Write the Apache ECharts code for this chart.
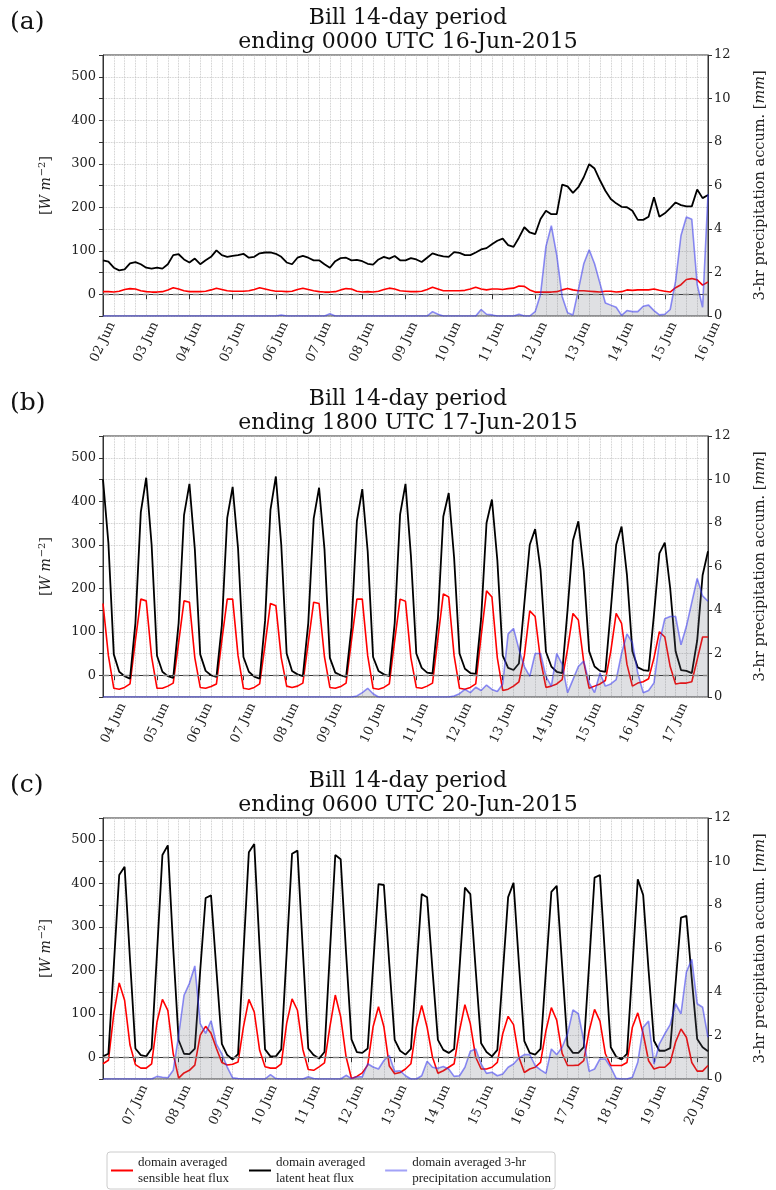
<!DOCTYPE html>
<html><head><meta charset="utf-8">
<script src="https://cdn.jsdelivr.net/npm/echarts@6/dist/echarts.min.js"></script>
<style>html,body{margin:0;padding:0;background:#fff}#c{width:776px;height:1190px}</style>
</head><body><div id="c"></div>
<script>
const FONT = 'DejaVu Serif';
const LEGFONT = 'Liberation Serif';
const panelTags = ['(a)', '(b)', '(c)'];
const panelTitles = [
  'Bill 14-day period\nending 0000 UTC 16-Jun-2015',
  'Bill 14-day period\nending 1800 UTC 17-Jun-2015',
  'Bill 14-day period\nending 0600 UTC 20-Jun-2015'
];
const startDay = [2, 3, 6];
const startHour = [0, 18, 6];
const nameSH = 'domain averaged\nsensible heat flux';
const nameLH = 'domain averaged\nlatent heat flux';
const namePR = 'domain averaged 3-hr\nprecipitation accumulation';

// ---------- Panel (a) ----------
const sensibleA = [
  6,6,5,7,11,13,12,8,
  6,5,5,6,10,15,12,8,
  6,6,6,7,10,14,11,8,
  7,7,7,8,11,15,12,9,
  7,7,6,7,11,14,11,8,
  6,5,5,6,10,13,12,7,
  5,6,5,7,11,14,12,8,
  7,6,6,7,11,16,12,8,
  8,8,8,9,12,16,12,10,
  12,12,11,13,14,19,18,10,
  5,5,5,5,6,10,13,10,
  8,8,7,6,5,7,7,5,
  6,10,9,10,10,10,12,9,
  7,5,15,22,34,36,33,21,
  28];
const latentA = [
  78,75,61,55,57,71,74,69,
  61,59,61,59,69,90,92,80,
  73,82,69,78,86,101,90,86,
  88,90,93,84,86,94,96,96,
  93,86,73,69,84,88,84,78,
  78,69,61,76,83,84,78,79,
  76,70,68,80,86,82,88,78,
  78,83,80,74,84,94,90,87,
  86,97,95,90,90,96,103,106,
  115,123,128,113,109,130,154,142,
  138,173,192,184,184,252,248,233,
  246,269,299,289,262,238,219,209,
  201,200,192,171,171,178,223,178,
  186,198,211,205,202,202,241,221,
  228];
const precipA = [
  0,0,0,0,0,0,0,0,
  0,0,0,0,0,0,0,0,
  0,0,0,0,0,0,0,0,
  0,0,0,0,0,0,0,0,
  0,0.05,0,0,0,0,0,0,
  0,0,0.1,0,0,0,0,0,
  0,0,0,0,0,0,0,0,
  0,0,0,0,0,0.2,0.08,0,
  0,0,0,0,0,0,0.3,0.08,
  0.05,0,0,0,0,0.08,0,0,
  0.2,1.0,3.2,4.15,2.8,0.9,0.15,0.05,
  1.2,2.4,3.05,2.4,1.5,0.6,0.5,0.4,
  0.03,0.25,0.2,0.2,0.45,0.5,0.25,0.05,
  0.08,0.3,1.6,3.7,4.55,4.45,1.45,0.4,
  5.6];

// ---------- Panel (b) ----------
const sensibleB = [
  165,45,-30,-32,-28,-20,80,175,
  171,42,-30,-30,-25,-18,75,171,
  168,40,-28,-30,-26,-20,80,175,
  175,45,-30,-32,-28,-20,70,165,
  160,40,-25,-28,-25,-18,75,168,
  165,42,-28,-30,-26,-18,80,175,
  175,45,-30,-32,-28,-20,80,175,
  170,40,-28,-30,-25,-18,85,187,
  180,45,-30,-32,-28,-20,90,194,
  180,40,-35,-32,-25,-15,45,148,
  135,35,-28,-25,-20,-10,60,142,
  127,30,-30,-25,-20,-12,55,142,
  119,25,-25,-18,-15,-8,40,100,
  88,20,-20,-18,-18,-15,36,88,
  88];
const latentB = [
  450,304,48,8,-2,-8,120,375,
  454,300,45,8,-2,-6,120,368,
  440,290,48,10,0,-4,115,362,
  433,292,42,8,-3,-8,125,380,
  457,300,50,10,2,-2,120,360,
  431,290,40,6,0,-4,110,355,
  428,285,42,10,2,-2,120,370,
  440,275,50,17,6,4,130,365,
  419,270,50,15,5,3,130,350,
  404,265,45,17,12,27,165,300,
  336,242,54,20,8,5,150,310,
  354,240,55,20,10,8,150,300,
  342,230,55,18,12,10,140,280,
  305,200,55,12,10,5,80,230,
  285];
const precipB = [
  0,0,0,0,0,0,0,0,
  0,0,0,0,0,0,0,0,
  0,0,0,0,0,0,0,0,
  0,0,0,0,0,0,0,0,
  0,0,0,0,0,0,0,0,
  0,0,0,0,0,0,0,0.05,
  0.2,0.4,0.15,0,0,0,0,0,
  0,0,0,0,0,0,0,0,
  0,0.05,0.15,0.35,0.2,0.45,0.3,0.55,
  0.35,0.25,0.6,2.9,3.15,2.2,1.4,0.95,
  2.0,2.0,0.95,0.5,2.0,1.5,0.2,0.8,
  1.4,1.65,0.65,0.2,1.1,0.5,0.6,0.8,
  2.0,2.9,2.5,1.1,0.2,0.3,0.65,2.5,
  3.6,3.7,3.7,2.4,3.25,4.35,5.45,4.65,
  4.4];

// ---------- Panel (c) ----------
const sensibleC = [
  -15,-7,100,171,131,28,-17,-25,
  -25,-15,81,133,108,8,-48,-36,
  -30,-18,51,71,55,20,-12,-18,
  -16,-11,70,133,104,16,-22,-25,
  -25,-15,78,134,108,18,-28,-30,
  -22,-13,70,143,93,1,-49,-44,
  -36,-18,70,116,70,-20,-38,-35,
  -27,-15,69,119,69,0,-37,-31,
  -23,-15,61,121,77,0,-27,-27,
  -23,-12,54,94,75,0,-35,-27,
  -23,-12,61,114,85,9,-19,-19,
  -18,-8,61,110,83,8,-19,-19,
  -19,-12,69,102,54,-8,-27,-23,
  -23,-12,35,65,46,-12,-32,-32,
  -19];
const latentC = [
  2,8,210,419,438,225,20,5,
  2,20,240,465,487,250,39,8,
  7,20,200,366,372,200,31,5,
  -5,7,240,471,490,250,18,2,
  2,18,240,468,475,245,20,5,
  -3,12,240,465,455,240,41,12,
  10,20,210,398,396,215,40,15,
  6,19,195,375,368,200,40,17,
  10,19,205,390,375,200,32,12,
  2,17,190,368,401,215,37,10,
  6,19,200,380,394,210,27,10,
  10,23,215,413,419,220,23,1,
  -5,8,205,409,373,200,38,15,
  15,21,170,321,325,180,42,23,
  14];
const precipC = [
  0,0,0,0,0,0,0,0,
  0,0,0.12,0.08,0.06,0.4,2.0,3.85,
  4.4,5.2,2.55,2.1,2.68,1.6,1.15,0.55,
  0.05,0.02,0,0,0,0,0,0.2,
  0.02,0,0,0,0,0,0.1,0.02,
  0,0,0,0,0,0.17,0.02,0.1,
  0.1,0.7,0.55,0.46,0.85,1.08,0.35,0.38,
  0.15,0,0,0.15,0.82,0.54,0.49,0.57,
  0.46,0.12,0.15,0.54,1.28,1.38,0.69,0.26,
  0.31,0.15,0.23,0.54,0.69,0.97,1.12,1.12,
  0.62,0.42,0.26,1.38,1.12,1.46,2.08,3.18,
  3.0,1.77,0.35,0.46,0.92,0.92,0.54,0.03,
  0,0,0.08,0.77,2.38,2.66,0.69,1.62,
  2.08,2.5,3.46,3.0,4.92,5.5,3.46,3.3,
  1.92];

const sensible = [sensibleA, sensibleB, sensibleC];
const latent = [latentA, latentB, latentC];
const precip = [precipA, precipB, precipC];

function makeCats(d0, h0, n) {
  const out = [];
  for (let i = 0; i < n; i++) {
    const t = h0 + 3 * i;
    const d = d0 + Math.floor(t / 24);
    const h = t % 24;
    out.push(String(d).padStart(2, '0') + ' Jun ' + String(h).padStart(2, '0'));
  }
  return out;
}

const gridTops = [55, 436, 818];
const gridH = 261;
const isDay = (i, v) => v.slice(-2) === '00';

const grids = [], xAxes = [], yAxes = [], series = [], titles = [];
for (let g = 0; g < 3; g++) {
  const cats = makeCats(startDay[g], startHour[g], latent[g].length);
  grids.push({left: 103, top: gridTops[g], width: 617, height: gridH,
    show: true, borderColor: '#333', borderWidth: 1, backgroundColor: 'transparent'});
  xAxes.push({
    type: 'category', gridIndex: g, data: cats, boundaryGap: false,
    axisLine: {lineStyle: {color: '#333', width: 1}},
    axisTick: {interval: isDay, length: 5, lineStyle: {color: '#333'}},
    axisLabel: {interval: isDay, formatter: v => v.slice(0, 6), rotate: 65,
      align: 'center', verticalAlign: 'middle', margin: 26,
      fontFamily: FONT, fontSize: 13, color: '#222'},
    splitLine: {show: true, interval: (i) => i % 2 === 0,
      lineStyle: {type: 'dotted', color: '#bdbdbd', width: 0.8}}
  });
  yAxes.push({
    type: 'value', gridIndex: g, position: 'left', min: -50, max: 550, interval: 50,
    axisLine: {show: true, lineStyle: {color: '#333'}},
    axisTick: {show: true, length: 4, lineStyle: {color: '#333'}},
    axisLabel: {formatter: v => (v % 100 === 0 && v >= 0 && v <= 500) ? String(v) : '',
      margin: 7, fontFamily: FONT, fontSize: 13, color: '#222'},
    splitLine: {show: true, lineStyle: {type: 'dotted', color: '#bdbdbd', width: 0.8}},
    name: '{b|[}{i|W m}{s|−2}{b|]}', nameLocation: 'middle', nameRotate: 90, nameGap: 47,
    nameTextStyle: {rich: {
      b: {fontFamily: FONT, fontSize: 14, color: '#222'},
      i: {fontFamily: FONT, fontSize: 14, fontStyle: 'italic', color: '#222'},
      s: {fontFamily: FONT, fontSize: 10, color: '#222', padding: [0, 0, 9, 1]}
    }}
  });
  yAxes.push({
    type: 'value', gridIndex: g, position: 'right', min: 0, max: 12, interval: 2,
    axisLine: {show: true, lineStyle: {color: '#333'}},
    axisTick: {show: true, length: 4, lineStyle: {color: '#333'}},
    axisLabel: {margin: 6, fontFamily: FONT, fontSize: 13, color: '#222'},
    splitLine: {show: false},
    name: '{b|3-hr precipitation accum. [}{i|mm}{b|]}', nameLocation: 'middle', nameRotate: 90, nameGap: 45,
    nameTextStyle: {rich: {
      b: {fontFamily: FONT, fontSize: 14.5, color: '#222'},
      i: {fontFamily: FONT, fontSize: 14.5, fontStyle: 'italic', color: '#222'}
    }}
  });
  series.push({
    name: nameSH, type: 'line', xAxisIndex: g, yAxisIndex: 2 * g, data: sensible[g],
    symbol: 'none', itemStyle: {color: '#ff0000'}, lineStyle: {color: '#ff0000', width: 1.6}, z: 3
  });
  series.push({
    name: nameLH, type: 'line', xAxisIndex: g, yAxisIndex: 2 * g, data: latent[g],
    symbol: 'none', itemStyle: {color: '#000'}, lineStyle: {color: '#000', width: 1.8}, z: 3,
    markLine: {silent: true, symbol: ['none', 'none'], label: {show: false},
      lineStyle: {type: [6, 4], color: '#888', width: 1.3}, data: [{yAxis: 0}]}
  });
  series.push({
    name: namePR, type: 'line', xAxisIndex: g, yAxisIndex: 2 * g + 1, data: precip[g],
    symbol: 'none', itemStyle: {color: 'rgba(70,70,240,0.5)'},
    lineStyle: {color: 'rgba(50,50,240,0.55)', width: 1.6},
    areaStyle: {color: 'rgba(105,110,125,0.3)'}, z: 4
  });
  titles.push({text: panelTitles[g], left: 403, top: 1 + (gridTops[g] - 55), textAlign: 'center',
    textStyle: {fontFamily: FONT, fontSize: 22, fontWeight: 'normal', lineHeight: 24.5, color: '#111'}});
  titles.push({text: panelTags[g], left: 5, top: 5 + (gridTops[g] - 55),
    textStyle: {fontFamily: FONT, fontSize: 25, fontWeight: 'normal', color: '#111'}});
}

const chart = echarts.init(document.getElementById('c'), null, {renderer: 'canvas'});
chart.setOption({
  animation: false,
  backgroundColor: '#fff',
  title: titles,
  grid: grids,
  xAxis: xAxes,
  yAxis: yAxes,
  legend: {
    data: [nameSH, nameLH, namePR], left: 107, top: 1152, orient: 'horizontal',
    icon: 'rect', itemWidth: 22, itemHeight: 2, itemGap: 20,
    borderColor: '#ccc', borderWidth: 1, borderRadius: 3, padding: [3, 4, 3, 4],
    textStyle: {fontFamily: LEGFONT, fontSize: 13, lineHeight: 15.5, color: '#222'}
  },
  series: series
});
</script></body></html>
